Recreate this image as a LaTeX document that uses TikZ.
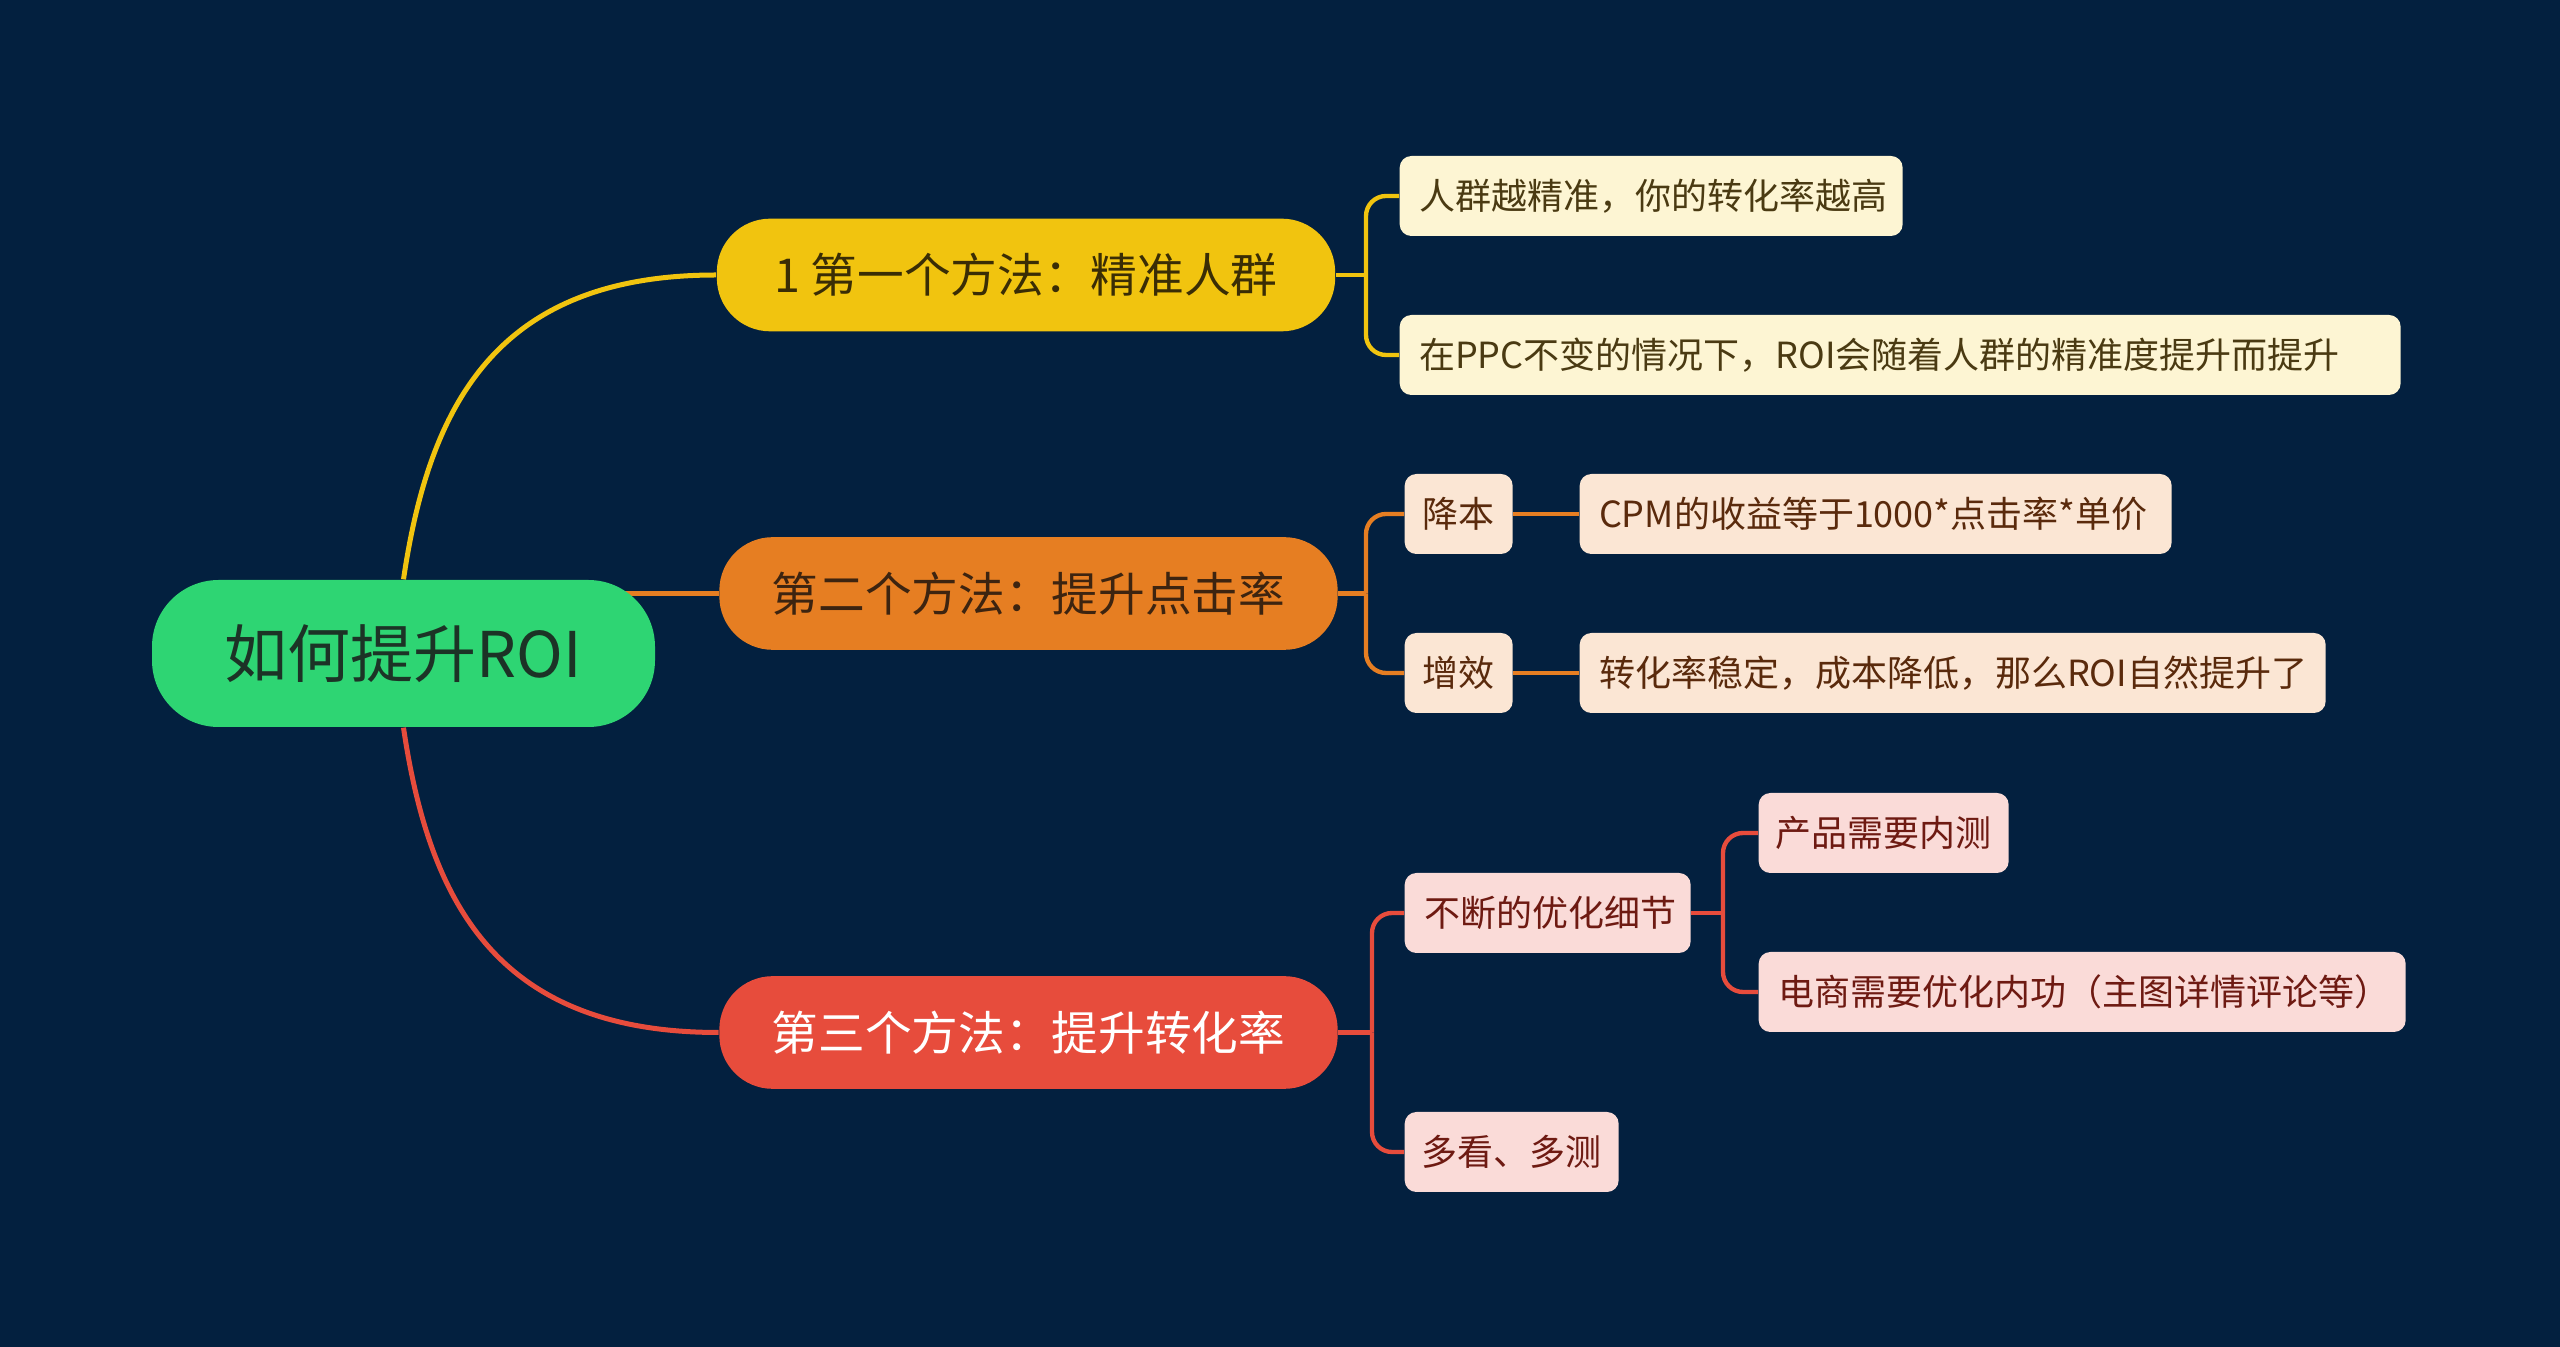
\documentclass[tikz,border=0pt]{standalone}
\usepackage{fontspec}
\setmainfont{Noto Sans CJK SC}
\pgfdeclarelayer{bglayer}
\pgfsetlayers{bglayer,main}
\definecolor{bgc}{HTML}{03203F}
\definecolor{cG}{HTML}{2ED573}
\definecolor{cY}{HTML}{F1C40F}
\definecolor{cO}{HTML}{E67E22}
\definecolor{cR}{HTML}{E74C3C}
\definecolor{lY}{HTML}{FDF5D3}
\definecolor{lO}{HTML}{FBE6D4}
\definecolor{lR}{HTML}{FADBD8}
\definecolor{tG}{HTML}{1C3326}
\definecolor{tY}{HTML}{3A2D05}
\definecolor{tO}{HTML}{3D2410}
\definecolor{tlY}{HTML}{4A3A12}
\definecolor{tlO}{HTML}{5A2A0C}
\definecolor{tlR}{HTML}{6E1A12}
\begin{document}
\begin{tikzpicture}[x=0.3pt,y=-0.3pt,
  rootbox/.style={fill=cG, text=tG, rounded corners=20pt, minimum width=150.9pt, minimum height=44.1pt, inner sep=0pt, font=\fontsize{18.9pt}{22pt}\selectfont},
  mainbox/.style={rounded corners=16pt, minimum width=185.5pt, minimum height=33.8pt, inner sep=0pt, font=\fontsize{14pt}{17pt}\selectfont},
  leaf/.style={rounded corners=3.5pt, minimum height=24pt, inner ysep=0pt, inner xsep=5.8pt, align=left, anchor=west, font=\fontsize{10.8pt}{13pt}\selectfont},
  leafY/.style={leaf, fill=lY, text=tlY},
  leafO/.style={leaf, fill=lO, text=tlO},
  leafR/.style={leaf, fill=lR, text=tlR},
  mainline/.style={line width=1.5pt},
  subline/.style={line width=1.3pt},
  bracket/.style={line width=1.3pt, rounded corners=6pt}]
\useasboundingbox (0,0) rectangle (2560,1347);

% root and main branches
\node[rootbox] (root) at (403.5,653.5) {如何提升ROI};
\node[mainbox, fill=cY, text=tY] (n1) at (1026,275) {1 第一个方法：精准人群};
\node[mainbox, fill=cO, text=tO] (n2) at (1028.5,593.5) {第二个方法：提升点击率};
\node[mainbox, fill=cR, text=white] (n3) at (1028.5,1032.5) {第三个方法：提升转化率};

% yellow leaves
\node[leafY, text width=139.3pt] (a1) at (1399,196) {人群越精准，你的转化率越高};
\node[leafY, text width=288.7pt] (a2) at (1399,355) {在PPC不变的情况下，ROI会随着人群的精准度提升而提升};

% orange leaves
\node[leafO, text width=21.6pt, inner xsep=5.4pt] (b1) at (1404,514) {降本};
\node[leafO, text width=166pt] (b1x) at (1579,514) {CPM的收益等于1000*点击率*单价};
\node[leafO, text width=21.6pt, inner xsep=5.4pt] (b2) at (1404,673) {增效};
\node[leafO, text width=212.2pt] (b2x) at (1579,673) {转化率稳定，成本降低，那么ROI自然提升了};

% red leaves
\node[leafR, text width=74.2pt] (c1) at (1404,913) {不断的优化细节};
\node[leafR, text width=65pt, inner xsep=5pt] (c1a) at (1758,833) {产品需要内测};
\node[leafR, text width=182.5pt] (c1b) at (1758,992) {电商需要优化内功（主图详情评论等）};
\node[leafR, text width=54pt, inner xsep=5.1pt] (c2) at (1404,1152) {多看、多测};

\coordinate (j1) at (1366,275);
\coordinate (j2) at (1366,593.5);
\coordinate (j3) at (1372,1032.5);
\coordinate (j4) at (1723,913);

\begin{pgfonlayer}{bglayer}
  \fill[bgc] (0,0) rectangle (2560,1347);
  % root connectors
  \draw[cY, mainline] (root.north) .. controls (430,400) and (500,275) .. (n1.west);
  \draw[cO, mainline] (root.center |- n2.west) -- (n2.west);
  \draw[cR, mainline] (root.south) .. controls (430,907) and (500,1032.5) .. (n3.west);
  % yellow
  \draw[cY, subline] (n1.east) -- (j1);
  \draw[cY, bracket] (j1) |- (a1.west);
  \draw[cY, bracket] (j1) |- (a2.west);
  % orange
  \draw[cO, subline] (n2.east) -- (j2);
  \draw[cO, bracket] (j2) |- (b1.west);
  \draw[cO, bracket] (j2) |- (b2.west);
  \draw[cO, subline] (b1.east) -- (b1x.west);
  \draw[cO, subline] (b2.east) -- (b2x.west);
  % red
  \draw[cR, subline] (n3.east) -- (j3);
  \draw[cR, bracket] (j3) |- (c1.west);
  \draw[cR, bracket] (j3) |- (c2.west);
  \draw[cR, subline] (c1.east) -- (j4);
  \draw[cR, bracket] (j4) |- (c1a.west);
  \draw[cR, bracket] (j4) |- (c1b.west);
\end{pgfonlayer}
\end{tikzpicture}
\end{document}
